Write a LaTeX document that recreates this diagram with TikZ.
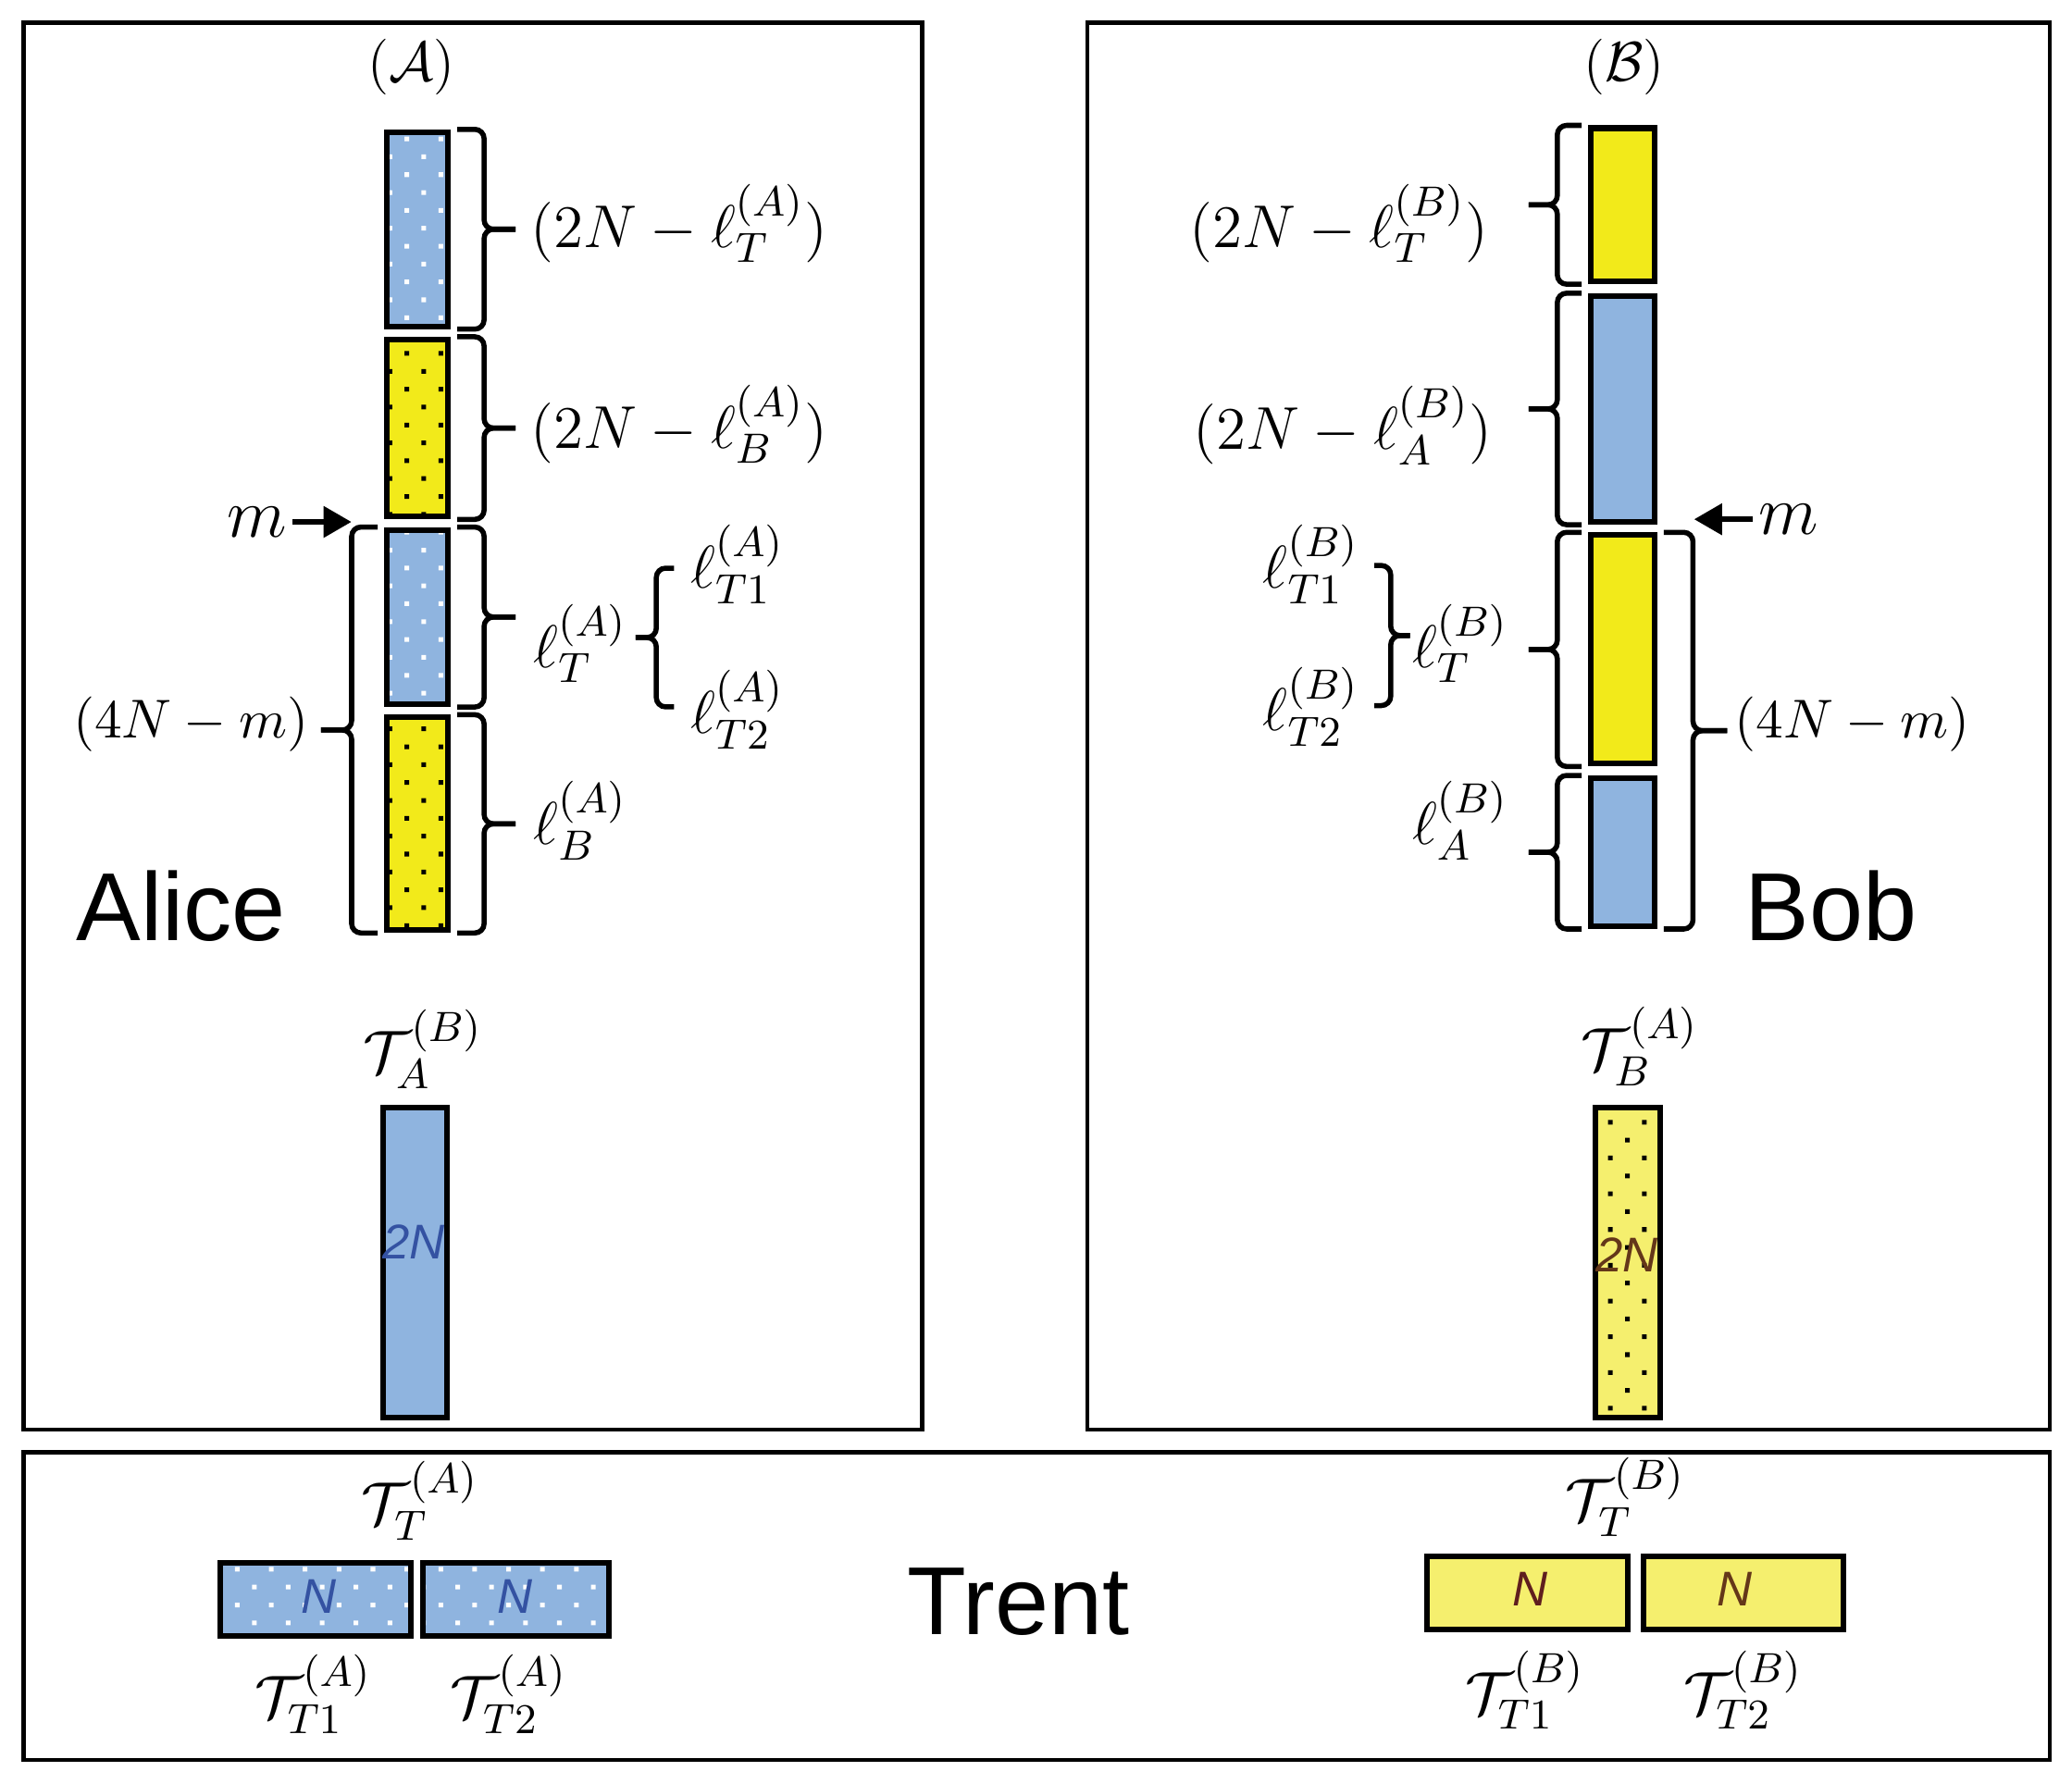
\documentclass[tikz,border=0pt]{standalone}
\usepackage{fix-cm}
\usepackage{fontspec}
\newfontfamily\helv{Liberation Sans}
\usetikzlibrary{patterns,calc,arrows.meta}

\definecolor{blau}{RGB}{143,180,223}
\definecolor{gelb}{RGB}{242,234,26}
\definecolor{hellgelb}{RGB}{245,239,110}
\definecolor{dunkelblau}{RGB}{52,82,162}
\definecolor{braun}{RGB}{100,55,25}
\definecolor{rotbraun}{RGB}{95,30,30}

% Punktmuster
\pgfdeclarepatternformonly{kleinpunkte}{\pgfqpoint{-1pt}{-1pt}}{\pgfqpoint{6.3pt}{6.7pt}}{\pgfqpoint{7.3pt}{7.7pt}}{
  \pgfpathrectangle{\pgfqpoint{-0.5pt}{-0.5pt}}{\pgfqpoint{1pt}{1pt}}
  \pgfpathrectangle{\pgfqpoint{3.15pt}{3.35pt}}{\pgfqpoint{1pt}{1pt}}
  \pgfusepath{fill}
}

% Klammer: #1 oben, #2 unten, #3 Abstand, #4 Amplitude (negativ: Spitze links)
\newcommand{\klammer}[4]{
  \draw[klammerlinie] ($(#1)+(#3,0)$) -- ($(#1)+({#3+0.46*(#4)},0)$)
    -- ($(#1)!0.5!(#2)+({#3+0.46*(#4)},0)$) -- ($(#1)!0.5!(#2)+({#3+(#4)},0)$);
  \draw[klammerlinie] ($(#2)+(#3,0)$) -- ($(#2)+({#3+0.46*(#4)},0)$)
    -- ($(#1)!0.5!(#2)+({#3+0.46*(#4)},0)$) -- ($(#1)!0.5!(#2)+({#3+(#4)},0)$);
}

\tikzset{
  rahmen/.style={line width=0.9pt},
  kasten/.style={draw, line width=1.2pt, inner sep=0pt, preaction={fill=#1}},
  wpunkte/.style={pattern=kleinpunkte, pattern color=white},
  spunkte/.style={pattern=kleinpunkte, pattern color=black},
  klammerlinie/.style={line width=1.1pt, rounded corners=2pt},
  lbl/.style={inner sep=0pt},
  pfeil/.style={-{Triangle[length=6pt,width=6.5pt]}, line width=1.3pt},
  gross/.style={inner sep=0pt, font=\helv\fontsize{20.8}{24}\selectfont},
  zahl/.style={font=\helv\itshape\fontsize{10.5}{12}\selectfont}
}

\begin{document}
\begin{tikzpicture}[font=\fontsize{13}{15}\selectfont]
    \useasboundingbox (0,0) rectangle (15.68,13.5);

    % zeichne Rahmen
    \draw[rahmen] (0.18,2.68) rectangle (6.98,13.33);
    \draw[rahmen] (8.23,2.68) rectangle (15.51,13.33);
    \draw[rahmen] (0.18,0.18) rectangle (15.51,2.51);

    % zeichne Alice
    \node[lbl, font=\fontsize{12}{14}\selectfont] (titelA) at (3.11,12.99) {$(\mathcal{A})$};
    \node[kasten=blau, wpunkte, minimum width=0.46cm, minimum height=1.47cm] (a1) at (3.16,11.765) {};
    \node[kasten=gelb, spunkte, minimum width=0.46cm, minimum height=1.34cm] (a2) at (3.16,10.26) {};
    \node[kasten=blau, wpunkte, minimum width=0.46cm, minimum height=1.32cm] (a3) at (3.16,8.83) {};
    \node[kasten=gelb, spunkte, minimum width=0.46cm, minimum height=1.61cm] (a4) at (3.16,7.265) {};

    \klammer{a1.north east}{a1.south east}{0.05}{0.44}
    \klammer{a2.north east}{a2.south east}{0.05}{0.44}
    \klammer{a3.north east}{a3.south east}{0.05}{0.44}
    \klammer{a4.north east}{a4.south east}{0.05}{0.44}
    \klammer{a3.north west}{a4.south west}{-0.05}{-0.43}
    \coordinate (kA1) at (5.10,9.20);
    \coordinate (kA2) at (5.10,8.15);
    \klammer{kA1}{kA2}{0}{-0.29}

    \node[lbl, anchor=west] (lA1) at (4.01,11.81) {$(2N-\ell_T^{(A)})$};
    \node[lbl, anchor=west] (lA2) at (4.01,10.29) {$(2N-\ell_B^{(A)})$};
    \node[lbl, anchor=west] (lA3) at (4.03,8.63) {$\ell_T^{(A)}$};
    \node[lbl, anchor=west] (lA4) at (4.03,7.29) {$\ell_B^{(A)}$};
    \node[lbl, anchor=west] (lA5) at (5.22,9.23) {$\ell_{T1}^{(A)}$};
    \node[lbl, anchor=west] (lA6) at (5.22,8.13) {$\ell_{T2}^{(A)}$};
    \node[lbl, anchor=east, font=\fontsize{11.8}{14}\selectfont] (lA7) at (2.34,8.02) {$(4N-m)$};

    \node[lbl, anchor=east, font=\fontsize{15}{18}\selectfont] (mA) at (2.18,9.55) {$m$};
    \coordinate (mAziel) at (2.66,9.55);
    \draw[pfeil] ([xshift=1pt]mA.east) -- (mAziel);

    \node[gross, anchor=base west] (alice) at (0.57,6.38) {Alice};

    \node[lbl] (tA) at (3.20,5.56) {$\mathcal{T}_A^{(B)}$};
    \node[kasten=blau, minimum width=0.48cm, minimum height=2.35cm] (a5) at (3.14,3.945) {};
    \node[zahl, text=dunkelblau] (a5n) at (3.13,4.10) {2N};

    % zeichne Bob
    \node[lbl, font=\fontsize{12}{14}\selectfont] (titelB) at (12.29,12.99) {$(\mathcal{B})$};
    \node[kasten=gelb, minimum width=0.48cm, minimum height=1.16cm] (b1) at (12.28,11.95) {};
    \node[kasten=blau, minimum width=0.48cm, minimum height=1.71cm] (b2) at (12.28,10.405) {};
    \node[kasten=gelb, minimum width=0.48cm, minimum height=1.73cm] (b3) at (12.28,8.585) {};
    \node[kasten=blau, minimum width=0.48cm, minimum height=1.12cm] (b4) at (12.28,7.05) {};

    \klammer{b1.north west}{b1.south west}{-0.05}{-0.40}
    \klammer{b2.north west}{b2.south west}{-0.05}{-0.40}
    \klammer{b3.north west}{b3.south west}{-0.05}{-0.40}
    \klammer{b4.north west}{b4.south west}{-0.05}{-0.40}
    \klammer{b3.north east}{b4.south east}{0.05}{0.48}
    \coordinate (kB1) at (10.40,9.22);
    \coordinate (kB2) at (10.40,8.16);
    \klammer{kB1}{kB2}{0}{0.27}

    \node[lbl, anchor=east] (lB1) at (11.27,11.81) {$(2N-\ell_T^{(B)})$};
    \node[lbl, anchor=east] (lB2) at (11.30,10.28) {$(2N-\ell_A^{(B)})$};
    \node[lbl, anchor=west] (lB3) at (10.68,8.63) {$\ell_T^{(B)}$};
    \node[lbl, anchor=west] (lB4) at (10.68,7.29) {$\ell_A^{(B)}$};
    \node[lbl, anchor=west] (lB5) at (9.55,9.23) {$\ell_{T1}^{(B)}$};
    \node[lbl, anchor=west] (lB6) at (9.55,8.15) {$\ell_{T2}^{(B)}$};
    \node[lbl, anchor=west, font=\fontsize{11.8}{14}\selectfont] (lB7) at (13.12,8.02) {$(4N-m)$};

    \node[lbl, anchor=west, font=\fontsize{15}{18}\selectfont] (mB) at (13.30,9.57) {$m$};
    \coordinate (mBziel) at (12.82,9.57);
    \draw[pfeil] ([xshift=-1pt]mB.west) -- (mBziel);

    \node[gross, anchor=base west] (bob) at (13.20,6.38) {Bob};

    \node[lbl] (tB) at (12.41,5.58) {$\mathcal{T}_B^{(A)}$};
    \node[kasten=hellgelb, spunkte, minimum width=0.49cm, minimum height=2.35cm] (b5) at (12.315,3.945) {};
    \node[zahl, text=braun] (b5n) at (12.31,4.00) {2N};

    % zeichne Trent
    \node[gross, anchor=base west] (trent) at (6.86,1.13) {Trent};

    \node[lbl] (tTA) at (3.18,2.14) {$\mathcal{T}_T^{(A)}$};
    \node[kasten=blau, wpunkte, minimum width=1.44cm, minimum height=0.55cm] (ta1) at (2.39,1.395) {};
    \node[kasten=blau, wpunkte, minimum width=1.41cm, minimum height=0.55cm] (ta2) at (3.905,1.395) {};
    \node[zahl, text=dunkelblau] (ta1n) at (2.41,1.42) {N};
    \node[zahl, text=dunkelblau] (ta2n) at (3.90,1.42) {N};
    \node[lbl] (tTA1) at (2.37,0.68) {$\mathcal{T}_{T1}^{(A)}$};
    \node[lbl] (tTA2) at (3.85,0.68) {$\mathcal{T}_{T2}^{(A)}$};

    \node[lbl] (tTB) at (12.30,2.17) {$\mathcal{T}_T^{(B)}$};
    \node[kasten=hellgelb, minimum width=1.52cm, minimum height=0.55cm] (tb1) at (11.56,1.445) {};
    \node[kasten=hellgelb, minimum width=1.51cm, minimum height=0.55cm] (tb2) at (13.195,1.445) {};
    \node[zahl, text=rotbraun] (tb1n) at (11.58,1.47) {N};
    \node[zahl, text=braun] (tb2n) at (13.13,1.47) {N};
    \node[lbl] (tTB1) at (11.54,0.71) {$\mathcal{T}_{T1}^{(B)}$};
    \node[lbl] (tTB2) at (13.19,0.71) {$\mathcal{T}_{T2}^{(B)}$};
\end{tikzpicture}
\end{document}
